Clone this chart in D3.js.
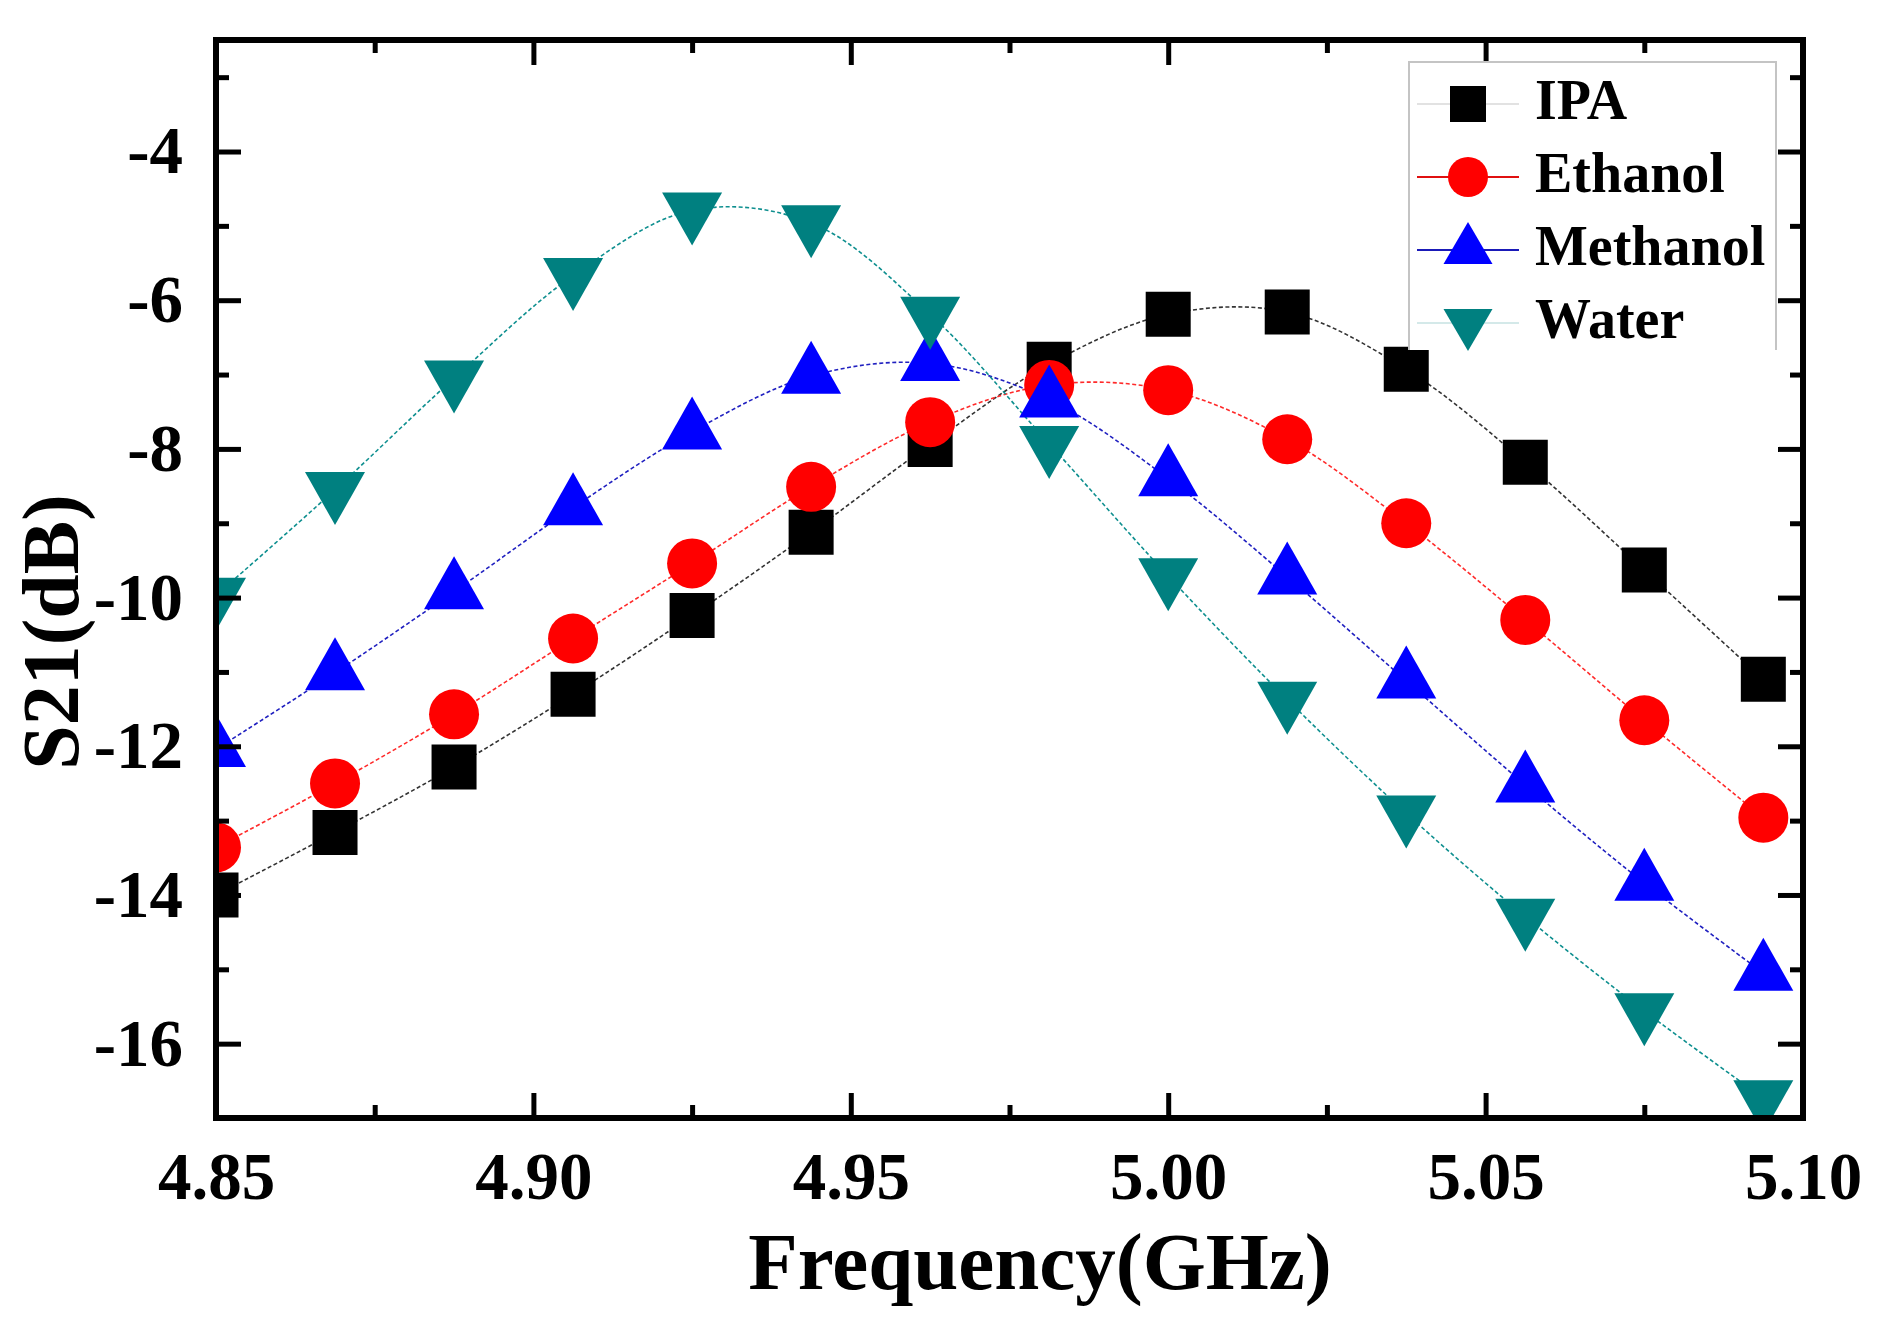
<!DOCTYPE html>
<html>
<head>
<meta charset="utf-8">
<script src="https://cdn.jsdelivr.net/npm/d3@7"></script>
<style>
  body { margin: 0; background: #fff; }
  text { font-family: "Liberation Serif", "Times New Roman", serif; font-weight: bold; }
</style>
</head>
<body>
<script>
// frequency points (GHz)
const frecuencias = [4.85, 4.86875, 4.8875, 4.90625, 4.925, 4.94375, 4.9625,
  4.98125, 5.0, 5.01875, 5.0375, 5.05625, 5.075, 5.09375];

// S21 (dB) per liquid
const ipa = [-14.0, -13.16, -12.28, -11.3, -10.24, -9.12, -7.94, -6.86, -6.19,
  -6.16, -6.93, -8.18, -9.63, -11.1];
const etanol = [-13.36, -12.5, -11.57, -10.55, -9.54, -8.51, -7.64, -7.14, -7.21,
  -7.87, -9.0, -10.3, -11.65, -12.96];
const metanol = [-12.04, -11.01, -9.92, -8.79, -7.77, -7.02, -6.85, -7.34, -8.4,
  -9.72, -11.12, -12.52, -13.84, -15.05];
const agua = [-9.97, -8.55, -7.05, -5.67, -4.79, -4.96, -6.19, -7.93, -9.71,
  -11.37, -12.9, -14.29, -15.56, -16.73];

const nombres = ["IPA", "Ethanol", "Methanol", "Water"];
const ticksX = [4.85, 4.9, 4.95, 5.0, 5.05, 5.1];
const ticksXMenores = [4.875, 4.925, 4.975, 5.025, 5.075];
const ticksY = [-4, -6, -8, -10, -12, -14, -16];
const ticksYMenores = [-3, -5, -7, -9, -11, -13, -15];

const width = 1884;
const height = 1317;
const margin = { top: 40, right: 81, bottom: 199, left: 216 };

const series = [
  { nombre: nombres[0], valores: ipa, color: "#000000", linea: "#333333", legendaLinea: "#e2e2e2", forma: "square" },
  { nombre: nombres[1], valores: etanol, color: "#ff0000", linea: "#ff2a2a", legendaLinea: "#e01010", forma: "circle" },
  { nombre: nombres[2], valores: metanol, color: "#0000ff", linea: "#2020c0", legendaLinea: "#1a1ab8", forma: "up" },
  { nombre: nombres[3], valores: agua, color: "#008080", linea: "#0e8f8f", legendaLinea: "#d4e9e9", forma: "down" },
];

const svg = d3
  .select("body")
  .append("svg")
  .attr("width", width)
  .attr("height", height);

svg.append("rect").attr("width", width).attr("height", height).attr("fill", "#fff");

const escalaX = d3
  .scaleLinear()
  .domain([4.85, 5.1])
  .range([margin.left, width - margin.right]);

const escalaY = d3
  .scaleLinear()
  .domain([-17, -2.5])
  .range([height - margin.bottom, margin.top]);

svg
  .append("clipPath")
  .attr("id", "recorte")
  .append("rect")
  .attr("x", margin.left)
  .attr("y", margin.top)
  .attr("width", width - margin.left - margin.right)
  .attr("height", height - margin.top - margin.bottom);

// marker paths, triangles centred on their centroid like Origin does
function forma(tipo, s) {
  if (tipo === "square") {
    const h = s.cuadrado / 2;
    return `M${-h},${-h}H${h}V${h}H${-h}Z`;
  }
  if (tipo === "circle") {
    const r = s.circulo / 2;
    return `M${r},0A${r},${r} 0 1,1 ${-r},0A${r},${r} 0 1,1 ${r},0Z`;
  }
  const w = s.triAncho / 2;
  const h = s.triAlto;
  if (tipo === "up") return `M0,${(-2 * h) / 3}L${w},${h / 3}L${-w},${h / 3}Z`;
  return `M0,${(2 * h) / 3}L${w},${-h / 3}L${-w},${-h / 3}Z`;
}

const tamPlot = { cuadrado: 45, circulo: 50, triAncho: 60, triAlto: 53 };
const tamLeyenda = { cuadrado: 36, circulo: 40, triAncho: 49, triAlto: 42 };

const contenedor = svg.append("g").attr("clip-path", "url(#recorte)");

const linea = d3
  .line()
  .x((d) => escalaX(d.x))
  .y((d) => escalaY(d.y))
  .curve(d3.curveCatmullRom.alpha(0.5));

series.forEach((s) => {
  const puntos = frecuencias.map((f, i) => ({ x: f, y: s.valores[i] }));
  contenedor
    .append("path")
    .datum(puntos)
    .attr("d", linea)
    .attr("fill", "none")
    .attr("stroke", s.linea)
    .attr("stroke-width", 1.6)
    .attr("stroke-dasharray", "4 2.5");
});

series.forEach((s) => {
  const puntos = frecuencias.map((f, i) => ({ x: f, y: s.valores[i] }));
  contenedor
    .selectAll(null)
    .data(puntos)
    .join("path")
    .attr("transform", (d) => `translate(${escalaX(d.x)},${escalaY(d.y)})`)
    .attr("d", forma(s.forma, tamPlot))
    .attr("fill", s.color);
});

// axes: ticks point inward on all four sides
function estiloEje(g) {
  g.select(".domain").remove();
  g.selectAll(".tick line").attr("stroke", "#000").attr("stroke-width", 5);
  g.selectAll("text").attr("fill", "#000").attr("font-size", 67);
}

const altoPlot = height - margin.bottom;
const anchoPlot = width - margin.right;

svg
  .append("g")
  .attr("transform", `translate(0,${altoPlot})`)
  .call(d3.axisBottom(escalaX).tickValues(ticksX).tickFormat(d3.format(".2f")).tickSize(-25).tickPadding(33))
  .call(estiloEje);
svg
  .append("g")
  .attr("transform", `translate(0,${altoPlot})`)
  .call(d3.axisBottom(escalaX).tickValues(ticksXMenores).tickFormat("").tickSize(-13))
  .call(estiloEje);
svg
  .append("g")
  .attr("transform", `translate(0,${margin.top})`)
  .call(d3.axisTop(escalaX).tickValues(ticksX).tickFormat("").tickSize(-25))
  .call(estiloEje);
svg
  .append("g")
  .attr("transform", `translate(0,${margin.top})`)
  .call(d3.axisTop(escalaX).tickValues(ticksXMenores).tickFormat("").tickSize(-13))
  .call(estiloEje);

svg
  .append("g")
  .attr("transform", `translate(${margin.left},0)`)
  .call(d3.axisLeft(escalaY).tickValues(ticksY).tickFormat(d3.format("d")).tickSize(-25).tickPadding(33))
  .call(estiloEje);
svg
  .append("g")
  .attr("transform", `translate(${margin.left},0)`)
  .call(d3.axisLeft(escalaY).tickValues(ticksYMenores).tickFormat("").tickSize(-13))
  .call(estiloEje);
svg
  .append("g")
  .attr("transform", `translate(${anchoPlot},0)`)
  .call(d3.axisRight(escalaY).tickValues(ticksY).tickFormat("").tickSize(-25))
  .call(estiloEje);
svg
  .append("g")
  .attr("transform", `translate(${anchoPlot},0)`)
  .call(d3.axisRight(escalaY).tickValues(ticksYMenores).tickFormat("").tickSize(-13))
  .call(estiloEje);

// replace d3's minus sign with a plain hyphen like the original
svg.selectAll(".tick text").text(function () {
  return d3.select(this).text().replace("−", "-");
});

// frame
svg
  .append("rect")
  .attr("x", margin.left)
  .attr("y", margin.top)
  .attr("width", anchoPlot - margin.left)
  .attr("height", altoPlot - margin.top)
  .attr("fill", "none")
  .attr("stroke", "#000")
  .attr("stroke-width", 6);

// axis titles
svg
  .append("text")
  .attr("x", 1040)
  .attr("y", 1289)
  .attr("text-anchor", "middle")
  .attr("font-size", 81)
  .text("Frequency(GHz)");

svg
  .append("text")
  .attr("transform", "translate(78,632) rotate(-90)")
  .attr("text-anchor", "middle")
  .attr("font-size", 80)
  .text("S21(dB)");

// legend
const leyenda = svg.append("g");
leyenda
  .append("rect")
  .attr("x", 1409)
  .attr("y", 62)
  .attr("width", 367)
  .attr("height", 288)
  .attr("fill", "#fff");
leyenda
  .append("path")
  .attr("d", "M1409,350V62H1776V350")
  .attr("fill", "none")
  .attr("stroke", "#c4c4c4")
  .attr("stroke-width", 2);

const filas = leyenda
  .selectAll("g.fila")
  .data(series)
  .join("g")
  .attr("class", "fila")
  .attr("transform", (d, i) => `translate(0,${104 + i * 73})`);

filas
  .append("line")
  .attr("x1", 1417)
  .attr("x2", 1519)
  .attr("stroke", (d) => d.legendaLinea)
  .attr("stroke-width", 2);

filas
  .append("path")
  .attr("transform", "translate(1468,0)")
  .attr("d", (d) => forma(d.forma, tamLeyenda))
  .attr("fill", (d) => d.color);

filas
  .append("text")
  .attr("x", 1535)
  .attr("y", 15)
  .attr("font-size", 56)
  .text((d) => d.nombre);
</script>
</body>
</html>
